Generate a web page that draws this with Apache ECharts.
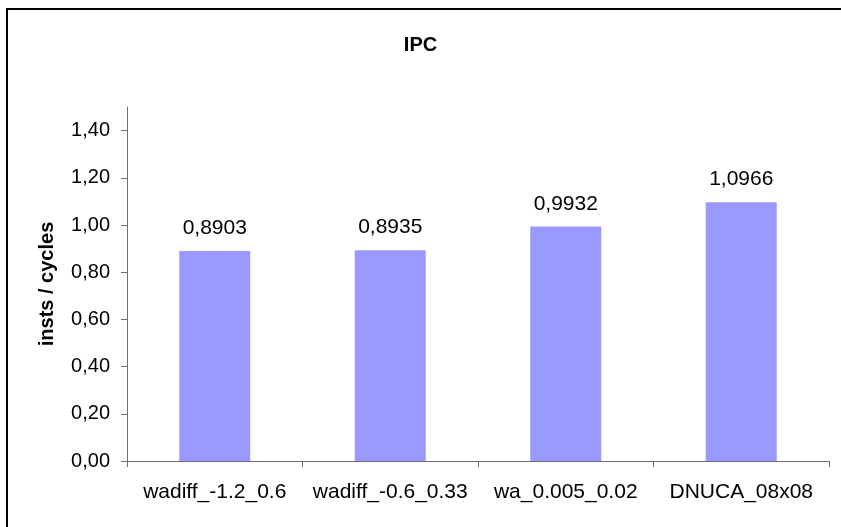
<!DOCTYPE html>
<html>
<head>
<meta charset="utf-8">
<script src="https://cdn.jsdelivr.net/npm/echarts@6/dist/echarts.min.js"></script>
<style>
  html, body { margin: 0; padding: 0; background: #fff; }
  #chart { width: 841px; height: 527px; }
</style>
</head>
<body>
<div id="chart"></div>
<script>
// data
const categories = ['wadiff_-1.2_0.6', 'wadiff_-0.6_0.33', 'wa_0.005_0.02', 'DNUCA_08x08']
const ipcValues = [0.8903, 0.8935, 0.9932, 1.0966]
const yTicks = [0, 0.2, 0.4, 0.6, 0.8, 1.0, 1.2, 1.4]

const font = 'Arial, "Liberation Sans", sans-serif'
const axisColor = '#6e6e6e'

const chart = echarts.init(document.getElementById('chart'))

const fmt = v => v.toFixed(2).replace('.', ',')

chart.setOption({
  animation: false,
  backgroundColor: '#fff',
  title: {
    text: 'IPC',
    left: 'center',
    top: 30,
    textStyle: { fontFamily: font, fontSize: 20, fontWeight: 'bold', color: '#000' }
  },
  graphic: [{
    type: 'rect',
    shape: { x: 7, y: 9, width: 900, height: 600 },
    style: { fill: 'none', stroke: '#000', lineWidth: 2 },
    silent: true
  }],
  grid: { left: 127, right: 12, top: 107, bottom: 66 },
  xAxis: {
    type: 'category',
    data: categories,
    axisLine: { lineStyle: { color: axisColor, width: 1 } },
    axisTick: { show: true, length: 6, lineStyle: { color: axisColor } },
    axisLabel: { margin: 21, color: '#000', fontFamily: font, fontSize: 21, interval: 0 }
  },
  yAxis: {
    type: 'value',
    min: 0,
    max: 1.5,
    name: 'insts / cycles',
    nameLocation: 'middle',
    nameGap: 70,
    nameTextStyle: { fontFamily: font, fontSize: 20, fontWeight: 'bold', color: '#000' },
    axisLine: { show: true, lineStyle: { color: axisColor, width: 1 } },
    axisTick: { show: true, length: 6, customValues: yTicks, lineStyle: { color: axisColor } },
    axisLabel: {
      customValues: yTicks,
      margin: 17,
      color: '#000',
      fontFamily: font,
      fontSize: 20,
      formatter: fmt
    },
    splitLine: { show: false }
  },
  series: [{
    type: 'bar',
    data: ipcValues,
    barWidth: 71,
    itemStyle: { color: '#9999ff' },
    label: {
      show: true,
      position: 'top',
      distance: 12,
      color: '#000',
      fontFamily: font,
      fontSize: 21,
      formatter: p => p.value.toFixed(4).replace('.', ',')
    }
  }]
})
</script>
</body>
</html>
